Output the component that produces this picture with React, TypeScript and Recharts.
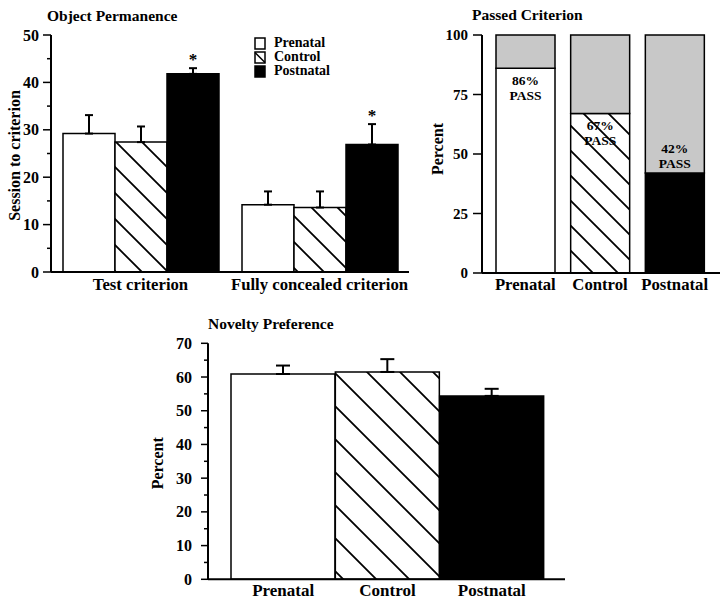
import React from 'react';
import { BarChart, Bar, XAxis, YAxis, ErrorBar, LabelList, Legend, Cell } from 'recharts';

const FONT = '"Liberation Serif", "Times New Roman", serif';

// Object Permanence (sessions to criterion)
const permCategories = ['Test criterion', 'Fully concealed criterion'];
const permPrenatal = [29.2, 14.2];
const permControl = [27.4, 13.6];
const permPostnatal = [41.8, 26.9];
const permPrenatalSem = [3.9, 2.8];
const permControlSem = [3.3, 3.4];
const permPostnatalSem = [1.2, 4.3];
const permStars = ['*', '*'];
const permTicks = [0, 5, 10, 15, 20, 25, 30, 35, 40, 45, 50];

// Passed Criterion
const groups = ['Prenatal', 'Control', 'Postnatal'];
const passedPct = [86, 67, 42];
const failedPct = [14, 33, 58];
const passTicks = [0, 25, 50, 75, 100];

// Novelty Preference
const noveltyPct = [60.9, 61.5, 54.4];
const noveltySem = [2.5, 3.8, 2.1];
const noveltyTicks = [0, 5, 10, 15, 20, 25, 30, 35, 40, 45, 50, 55, 60, 65, 70];

const permData = permCategories.map((name, i) => ({
  name,
  prenatal: permPrenatal[i],
  control: permControl[i],
  postnatal: permPostnatal[i],
  prenatalErr: [0, permPrenatalSem[i]],
  controlErr: [0, permControlSem[i]],
  postnatalErr: [0, permPostnatalSem[i]],
  star: permStars[i],
}));

const passData = groups.map((name, i) => ({ name, pass: passedPct[i], fail: failedPct[i] }));

const noveltyData = groups.map((name, i) => ({ name, value: noveltyPct[i], err: [0, noveltySem[i]] }));

const AXIS = { stroke: '#000', strokeWidth: 2 };

const Hatch = ({ id, size }: { id: string; size: number }) => {
  const a = size / 4;
  return (
    <pattern id={id} patternUnits="userSpaceOnUse" width={size} height={size}>
      <rect width={size} height={size} fill="#fff" />
      <path
        d={`M0,0 L${size},${size} M${-a},${size - a} L${a},${size + a} M${size - a},${-a} L${size + a},${a}`}
        stroke="#000"
        strokeWidth={1.8}
      />
    </pattern>
  );
};

const YTick = (props: any) => {
  const { x, y, payload, step, major, minor, gap, fontSize } = props;
  const v = payload.value;
  const isMajor = v % step === 0;
  const len = isMajor ? major : minor;
  return (
    <g>
      <line x1={x - len} y1={y} x2={x} y2={y} stroke="#000" strokeWidth={1.5} />
      {isMajor && (
        <text
          x={x - major - gap}
          y={y}
          textAnchor="end"
          dominantBaseline="central"
          fontFamily={FONT}
          fontWeight="bold"
          fontSize={fontSize}
          fill="#000"
        >
          {v}
        </text>
      )}
    </g>
  );
};

const SideTitle = (props: any) => {
  const { viewBox, text, cx, dy = 0, fontSize = 16 } = props;
  const cy = viewBox.y + viewBox.height / 2 + dy;
  return (
    <text
      x={cx}
      y={cy}
      transform={`rotate(-90 ${cx} ${cy})`}
      textAnchor="middle"
      dominantBaseline="central"
      fontFamily={FONT}
      fontWeight="bold"
      fontSize={fontSize}
      fill="#000"
    >
      {text}
    </text>
  );
};

const xTick = (size: number) => ({ fill: '#000', fontSize: size, fontWeight: 'bold', fontFamily: FONT });

const PermLegend = (props: any) => {
  const { payload = [] } = props;
  const items = [...payload].sort((a: any, b: any) => groups.indexOf(a.value) - groups.indexOf(b.value));
  return (
    <div style={{ fontFamily: FONT, fontWeight: 'bold', fontSize: 14, color: '#000' }}>
      {items.map((e: any, i: number) => {
        const c = String(e.color);
        const hatched = c.startsWith('url');
        return (
          <div key={i} style={{ display: 'flex', alignItems: 'center', height: 14 }}>
            <svg width={12} height={13} style={{ display: 'block' }}>
              <rect x={1} y={1} width={10} height={11} fill={hatched ? '#fff' : c} stroke="#000" strokeWidth={1.5} />
              {hatched && <line x1={1} y1={1.5} x2={11} y2={11.5} stroke="#000" strokeWidth={1.5} />}
            </svg>
            <span style={{ marginLeft: 8, lineHeight: '14px' }}>{e.value}</span>
          </div>
        );
      })}
    </div>
  );
};

const Star = (props: any) => {
  const { x, y, width, height, value, index } = props;
  const sem = permPostnatalSem[index] ?? 0;
  const errTop = y - (sem * height) / value;
  return (
    <text x={x + width / 2} y={errTop - 3} textAnchor="middle" fontFamily={FONT} fontWeight="bold" fontSize={17} fill="#000">
      {permStars[index]}
    </text>
  );
};

const PassLabel = (props: any) => {
  const { x, y, width, value, index } = props;
  const above = index === groups.length - 1;
  const y1 = above ? y - 25 : y + 12;
  const cx = x + width / 2;
  const common = { textAnchor: 'middle' as const, dominantBaseline: 'central' as const, fontFamily: FONT, fontWeight: 'bold', fontSize: 13.5, fill: '#000' };
  return (
    <g>
      <text x={cx} y={y1} {...common}>{`${value}%`}</text>
      <text x={cx} y={y1 + 15} {...common}>PASS</text>
    </g>
  );
};

const fills = ['#fff', 'url(#hatchPass)', '#000'];
const novFills = ['#fff', 'url(#hatchNov)', '#000'];

const Title = ({ text, left, top, size }: { text: string; left: number; top: number; size: number }) => (
  <div
    style={{
      position: 'absolute',
      left,
      top,
      fontFamily: FONT,
      fontWeight: 'bold',
      fontSize: size,
      lineHeight: '18px',
      color: '#000',
      whiteSpace: 'nowrap',
    }}
  >
    {text}
  </div>
);

export default function App() {
  return (
    <div style={{ position: 'absolute', left: 0, top: 0, width: 727, height: 603, background: '#fff' }}>
      <Title text="Object Permanence" left={47} top={7} size={15.5} />
      <Title text="Passed Criterion" left={472} top={6} size={15.5} />
      <Title text="Novelty Preference" left={208} top={315} size={15.5} />

      <div style={{ position: 'absolute', left: 0, top: 0 }}>
        <BarChart
          width={420}
          height={300}
          data={permData}
          margin={{ top: 35, right: 11, bottom: 8, left: 11 }}
          barCategoryGap={12}
          barGap={0}
        >
          <defs>
            <Hatch id="hatchPerm" size={26} />
          </defs>
          <XAxis dataKey="name" tickLine={false} tickSize={0} tickMargin={6} height={20} axisLine={AXIS} tick={xTick(16.7)} interval={0} />
          <XAxis xAxisId="frame" dataKey="name" orientation="top" height={0} tick={false} tickLine={false} axisLine={AXIS} />
          <YAxis
            domain={[0, 50]}
            ticks={permTicks}
            interval={0}
            width={40}
            tickSize={0}
            tickMargin={0}
            tickLine={false}
            axisLine={AXIS}
            tick={(p: any) => <YTick {...p} step={10} major={8} minor={4} gap={4} fontSize={16} />}
            label={<SideTitle text="Session to criterion" cx={14} dy={2} fontSize={16} />}
          />
          <YAxis yAxisId="frame" orientation="right" type="number" domain={[0, 1]} width={0} tick={false} tickLine={false} axisLine={AXIS} />
          <Legend
            layout="vertical"
            align="center"
            verticalAlign="middle"
            content={<PermLegend />}
            wrapperStyle={{ left: 254, top: 36, width: 'auto', height: 'auto' }}
          />
          <Bar dataKey="prenatal" name="Prenatal" fill="#fff" stroke="#000" strokeWidth={1.5} isAnimationActive={false}>
            <ErrorBar dataKey="prenatalErr" width={4} stroke="#000" strokeWidth={2} isAnimationActive={false} />
          </Bar>
          <Bar dataKey="control" name="Control" fill="url(#hatchPerm)" stroke="#000" strokeWidth={1.5} isAnimationActive={false}>
            <ErrorBar dataKey="controlErr" width={4} stroke="#000" strokeWidth={2} isAnimationActive={false} />
          </Bar>
          <Bar dataKey="postnatal" name="Postnatal" fill="#000" stroke="#000" strokeWidth={1.5} isAnimationActive={false}>
            <ErrorBar dataKey="postnatalErr" width={4} stroke="#000" strokeWidth={2} isAnimationActive={false} />
            <LabelList dataKey="postnatal" content={<Star />} />
          </Bar>
        </BarChart>
      </div>

      <div style={{ position: 'absolute', left: 420, top: 0 }}>
        <BarChart
          width={307}
          height={300}
          data={passData}
          margin={{ top: 35, right: 7, bottom: 7, left: 22 }}
          barCategoryGap={8}
        >
          <defs>
            <Hatch id="hatchPass" size={25} />
          </defs>
          <XAxis dataKey="name" padding={{ left: 6, right: 8 }} tickLine={false} tickSize={0} tickMargin={5} height={20} axisLine={AXIS} tick={xTick(16.7)} interval={0} />
          <XAxis xAxisId="frame" dataKey="name" orientation="top" height={0} tick={false} tickLine={false} axisLine={AXIS} />
          <YAxis
            domain={[0, 100]}
            ticks={passTicks}
            interval={0}
            width={40}
            tickSize={0}
            tickMargin={0}
            tickLine={false}
            axisLine={AXIS}
            tick={(p: any) => <YTick {...p} step={25} major={9} minor={4} gap={5} fontSize={15} />}
            label={<SideTitle text="Percent" cx={17} dy={-5} fontSize={16} />}
          />
          <YAxis yAxisId="frame" orientation="right" type="number" domain={[0, 1]} width={0} tick={false} tickLine={false} axisLine={AXIS} />
          <Bar dataKey="pass" stackId="a" stroke="#000" strokeWidth={1.5} isAnimationActive={false}>
            {passData.map((_, i) => (
              <Cell key={i} fill={fills[i]} />
            ))}
            <LabelList dataKey="pass" content={<PassLabel />} />
          </Bar>
          <Bar dataKey="fail" stackId="a" fill="#c8c8c8" stroke="#000" strokeWidth={1.5} isAnimationActive={false} />
        </BarChart>
      </div>

      <div style={{ position: 'absolute', left: 140, top: 310 }}>
        <BarChart
          width={440}
          height={293}
          data={noveltyData}
          margin={{ top: 33.3, right: 15, bottom: 3.7, left: 28 }}
          barCategoryGap={0}
        >
          <defs>
            <Hatch id="hatchNov" size={33} />
          </defs>
          <XAxis dataKey="name" padding={{ left: 23, right: 21 }} tickLine={false} tickSize={0} tickMargin={5} height={20} axisLine={AXIS} tick={xTick(17)} interval={0} />
          <XAxis xAxisId="frame" dataKey="name" orientation="top" height={0} tick={false} tickLine={false} axisLine={AXIS} />
          <YAxis
            domain={[0, 70]}
            ticks={noveltyTicks}
            interval={0}
            width={40}
            tickSize={0}
            tickMargin={0}
            tickLine={false}
            axisLine={AXIS}
            tick={(p: any) => <YTick {...p} step={10} major={7} minor={4} gap={9} fontSize={16} />}
            label={<SideTitle text="Percent" cx={18} dy={2} fontSize={16} />}
          />
          <YAxis yAxisId="frame" orientation="right" type="number" domain={[0, 1]} width={0} tick={false} tickLine={false} axisLine={AXIS} />
          <Bar dataKey="value" stroke="#000" strokeWidth={1.5} isAnimationActive={false}>
            {noveltyData.map((_, i) => (
              <Cell key={i} fill={novFills[i]} />
            ))}
            <ErrorBar dataKey="err" width={7} stroke="#000" strokeWidth={2} isAnimationActive={false} />
          </Bar>
        </BarChart>
      </div>
    </div>
  );
}
